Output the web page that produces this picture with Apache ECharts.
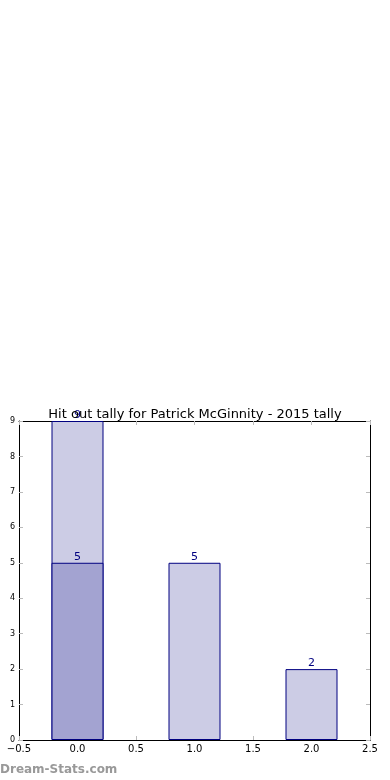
<!DOCTYPE html>
<html><head><meta charset="utf-8">
<script src="https://cdn.jsdelivr.net/npm/echarts@6/dist/echarts.min.js"></script>
<style>html,body{margin:0;padding:0;background:#fff}#c{width:390px;height:780px}</style>
</head><body><div id="c"></div>
<script>
const positions = [0, 1, 2];
const totals = [9, 5, 2];
const lower = [5, 0, 0];
const title = 'Hit out tally for Patrick McGinnity - 2015 tally';

const chart = echarts.init(document.getElementById('c'), null, {renderer:'canvas'});
const lbl = {show:true, position:'top', distance:0, color:'#000080', fontSize:11, fontFamily:'DejaVu Sans'};
const line = {show:true, onZero:false, lineStyle:{color:'#000'}};
const tick = {show:true, inside:true, length:4, lineStyle:{color:'#bbb'}};
chart.setOption({
  animation:false,
  title:{text:title, left:'center', top:403, textStyle:{fontSize:13, fontWeight:'normal', color:'#000', fontFamily:'DejaVu Sans'}},
  graphic:[{type:'text', left:0, top:764, style:{text:'Dream-Stats.com', fill:'#999', font:'bold 12px DejaVu Sans'}}],
  grid:{left:19, right:20, top:421, bottom:40},
  xAxis:[{type:'value', min:-0.5, max:2.5, interval:0.5,
    axisLine:line, axisTick:tick, splitLine:{show:false},
    axisLabel:{color:'#000', fontSize:10, fontFamily:'DejaVu Sans', margin:4,
      formatter:v=>{const s=v.toFixed(1); return v<0? '\u2212'+s.slice(1) : s;}}},
    {type:'value', position:'top', min:-0.5, max:2.5, interval:0.5, axisLine:line,
     axisTick:tick, axisLabel:{show:false}, splitLine:{show:false}}],
  yAxis:[{type:'value', min:0, max:9, interval:1,
    axisLine:line, axisTick:tick, splitLine:{show:false},
    axisLabel:{color:'#000', fontSize:8, fontFamily:'DejaVu Sans', margin:4}},
    {type:'value', position:'right', min:0, max:9, interval:1, axisLine:line,
     axisTick:tick, axisLabel:{show:false}, splitLine:{show:false}}],
  series:[
    {type:'bar', barWidth:52, barGap:'-100%', data:positions.map((p,i)=>[p,totals[i]]),
     itemStyle:{color:'#ccccE5', borderColor:'#000080', borderWidth:1}, label:lbl},
    {type:'bar', barWidth:52, barGap:'-100%', data:positions.map((p,i)=>[p,lower[i]]).filter(d=>d[1]>0),
     itemStyle:{color:'#a3a3d1', borderColor:'#000080', borderWidth:1}, label:lbl}
  ]
});
</script></body></html>
